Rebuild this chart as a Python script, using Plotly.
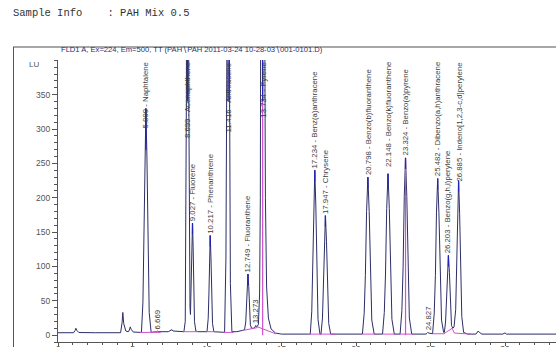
import plotly.graph_objects as go

# ---------------- data ----------------
time_min = [0.0, 0.9, 1.05, 1.15, 1.2, 1.26, 1.4, 2.5, 3.5, 4.15,
            4.2, 4.3, 4.35, 4.41, 4.55, 4.7,
            4.75, 4.81, 4.85, 4.91, 5.05, 5.5,
            5.60, 5.70, 5.76, 5.83, 5.899, 5.97, 6.04, 6.12, 6.25,
            6.5, 6.62, 6.669, 6.72, 7.4, 7.6, 7.65, 7.72, 8.3,
            8.45, 8.54, 8.58, 8.615, 8.657, 8.699, 8.74, 8.78, 8.82, 8.86, 8.89,
            8.93, 8.985, 9.027, 9.07, 9.11, 9.16, 9.25, 9.4,
            10.0, 10.08, 10.125, 10.17, 10.217, 10.265, 10.31, 10.37, 10.46,
            11.18, 11.27, 11.316, 11.366, 11.416, 11.466, 11.516, 11.57, 11.67,
            12.0, 12.4,
            12.52, 12.60, 12.65, 12.70, 12.749, 12.80, 12.85, 12.91, 12.99,
            13.15, 13.23, 13.273, 13.32, 13.39,
            13.45, 13.53, 13.58, 13.63, 13.68, 13.734, 13.79, 13.85, 13.92, 14.0, 14.12, 14.3, 14.6, 15.0,
            16.8,
            16.93, 17.03, 17.09, 17.16, 17.234, 17.305, 17.375, 17.45, 17.58,
            17.65, 17.75, 17.81, 17.88, 17.947, 18.02, 18.09, 18.17, 18.30,
            20.4,
            20.43, 20.55, 20.63, 20.71, 20.798, 20.885, 20.97, 21.06, 21.22,
            21.78, 21.90, 21.98, 22.06, 22.148, 22.235, 22.32, 22.41, 22.57,
            22.96, 23.08, 23.16, 23.24, 23.324, 23.41, 23.49, 23.58, 23.74,
            24.7, 24.78, 24.827, 24.88, 25.05,
            25.14, 25.25, 25.33, 25.40, 25.482, 25.565, 25.65, 25.74, 25.88,
            25.93, 26.01, 26.07, 26.135, 26.203, 26.27, 26.34, 26.41,
            26.5, 26.58, 26.69, 26.75, 26.815, 26.885, 26.955, 27.02, 27.10, 27.22, 27.5,
            28.05, 28.15, 28.2, 28.28, 28.45, 29.85, 29.95, 30.0, 30.1, 33.5]
signal_lu = [3.5, 3.5, 3.5, 7, 10, 7, 3.8, 3.5, 3.2, 3.2,
             3.5, 18, 33, 17, 6, 5,
             5.5, 9, 12, 8.5, 4.5, 4,
             4, 48, 126, 258, 330, 258, 126, 33, 4,
             4.5, 5, 6, 5, 5, 7.5, 8, 6, 5,
             5, 20, 126, 341, 703, 900, 703, 341, 120, 40, 30,
             62, 128, 163, 128, 65, 20, 6, 5,
             5, 24, 57, 114, 145, 114, 57, 17, 5,
             4, 111, 303, 625, 800, 625, 303, 75, 5,
             5, 7,
             8, 19, 38, 71, 89, 71, 38, 15, 10,
             10, 12, 14, 12, 13,
             16, 60, 200, 600, 1400, 2000, 1400, 600, 200, 70, 25, 9, 3, 1.5,
             1.5,
             1.5, 34, 91, 188, 240, 188, 91, 23, 1.5,
             1.5, 25, 66, 136, 174, 136, 66, 17, 1.5,
             1.5,
             1.5, 32, 87, 180, 230, 180, 87, 22, 1.5,
             1.5, 33, 89, 184, 235, 184, 89, 23, 1.5,
             1.5, 36, 98, 202, 258, 202, 98, 25, 1.5,
             1.5, 3, 4, 3, 2,
             2, 32, 87, 178, 228, 178, 87, 22, 4,
             4, 19, 46, 91, 116, 91, 46, 14,
             10, 12, 37, 89, 177, 225, 177, 89, 27, 4, 1.5,
             1.5, 5, 6, 4, 1.5, 1.5, 3, 3.2, 1.5, 1.5]

peak_rt = [5.899, 6.669, 8.699, 9.027, 10.217, 11.416, 12.749, 13.273, 13.734,
           17.234, 17.947, 20.798, 22.148, 23.324, 24.827, 25.482, 26.203, 26.885]
peak_name = ["Naphtalene", "", "Acenaphthene", "Fluorene", "Phenanthrene", "Anthracene",
             "Fluoranthene", "", "Pyrene", "Benz(a)anthracene", "Chrysene",
             "Benzo(b)fluoranthene", "Benzo(k)fluoranthene", "Benzo(a)pyrene", "",
             "Dibenzo(a,h)anthracene", "Benzo(g,h,i)perylene", "Indeno[1,2,3-c,d]perylene"]
peak_height = [330, 6, 900, 163, 145, 800, 89, 14, 2000,
               240, 174, 230, 235, 258, 4, 228, 116, 225]

# integration baselines (magenta), segments separated by None
base_t = [5.5, 6.9, None, 8.4, 9.4, None, 9.95, 10.6, None, 11.1, 11.8, None,
          12.45, 13.4, None, 13.4, 14.6, None, 16.9, 18.6, None, 20.45, 21.3, None,
          21.8, 22.7, None, 22.95, 23.8, None, 25.15, 25.9, 26.45, 26.6, 27.7]
base_lu = [4, 4, None, 5, 5, None, 5, 5, None, 4, 4, None,
           7, 11, None, 12, 2, None, 1.5, 1.5, None, 1.5, 1.5, None,
           1.5, 1.5, None, 1.5, 1.5, None, 2, 2, 10, 3, 1.5]

BS = "\u2216"  # backslash-looking glyph (plotly strips plain backslashes)
title_text = f"FLD1 A, Ex=224, Em=500, TT (PAH{BS}PAH 2011-03-24 10-28-03{BS}001-0101.D)"
sample_text = "Sample Info    : PAH Mix 0.5"

# ---------------- layout geometry ----------------
W, H = 556, 347
L, R, T, B = 58, 0, 60, 5
Y0, Y1 = -10, 400.5
X0, X1 = 0, (W - L) / 14.9


def px(xp):
    return (xp - L) / (W - L - R)


def py(yp):
    return (H - B - yp) / (H - T - B)


def lu_to_px(v):
    v = min(v, Y1)
    return (H - B) - (v - Y0) / (Y1 - Y0) * (H - T - B)


fig = go.Figure()
NAVY = "#2c2e66"
MAG = "#d24fd2"

fig.add_trace(go.Scatter(x=time_min, y=signal_lu, mode="lines",
                         line=dict(color=NAVY, width=1), hoverinfo="skip"))
fig.add_trace(go.Scatter(x=base_t, y=base_lu, mode="lines", connectgaps=False,
                         line=dict(color=MAG, width=1), hoverinfo="skip"))

# magenta drop lines at pyrene and benzo(a)pyrene
for name in ("Pyrene", "Benzo(a)pyrene"):
    i = peak_name.index(name)
    fig.add_trace(go.Scatter(x=[peak_rt[i], peak_rt[i]], y=[0, min(peak_height[i], Y1)],
                             mode="lines", line=dict(color=MAG, width=1.2), hoverinfo="skip"))

# blue apex marks
bx, by = [], []
for rt, h in zip(peak_rt, peak_height):
    if h < 50:
        continue
    top = min(h, Y1)
    bx += [rt, rt, None]
    by += [top, top - (60 if h > 300 else 16), None]
fig.add_trace(go.Scatter(x=bx, y=by, mode="lines", line=dict(color="#2323b8", width=1.3),
                         hoverinfo="skip"))

annotations = []
LABEL_FS = 7.8
CHAR_PX = 3.9
top_px = T + 1.5
for rt, name, h in zip(peak_rt, peak_name, peak_height):
    text = f"{rt:.3f}" + (f" - {name}" if name else "")
    length = len(text) * CHAR_PX
    apex_px = lu_to_px(h) - 1
    if apex_px - length < top_px:
        annotations.append(dict(x=rt, xref="x", y=py(top_px), yref="paper",
                                yanchor="top", xanchor="center", text=text, textangle=-90,
                                showarrow=False, borderpad=0,
                                font=dict(size=LABEL_FS, color="#3c3c3c", family="Liberation Sans")))
    else:
        annotations.append(dict(x=rt, xref="x", y=py(apex_px), yref="paper",
                                yanchor="bottom", xanchor="center", text=text, textangle=-90,
                                showarrow=False, borderpad=0,
                                font=dict(size=LABEL_FS, color="#3c3c3c", family="Liberation Sans")))

annotations.append(dict(x=px(60), y=py(49.5), xref="paper", yref="paper", xanchor="left",
                        yanchor="middle", text=title_text, showarrow=False, borderpad=0,
                        font=dict(size=7.6, color="#2a3070", family="Liberation Sans")))
annotations.append(dict(x=px(12), y=py(13.5), xref="paper", yref="paper", xanchor="left",
                        yanchor="middle", text=sample_text.replace(" ", "\u00a0"),
                        showarrow=False, borderpad=0,
                        font=dict(size=10.5, color="#333333", family="Liberation Mono")))
annotations.append(dict(x=px(34), y=py(65), xref="paper", yref="paper", xanchor="center",
                        yanchor="middle", text="LU", showarrow=False, borderpad=0,
                        font=dict(size=8, color="#555555", family="Liberation Sans")))

shapes = [
    dict(type="line", xref="paper", yref="paper", x0=px(13), x1=px(W + 10),
         y0=py(47), y1=py(47), line=dict(color="#8a8a8a", width=1.6)),
    dict(type="line", xref="paper", yref="paper", x0=px(13.5), x1=px(13.5),
         y0=py(47), y1=py(H + 10), line=dict(color="#555555", width=1)),
]

axis_font = dict(size=8.5, color="#555555", family="Liberation Sans")
fig.update_layout(
    width=W, height=H, margin=dict(l=L, r=R, t=T, b=B, autoexpand=False),
    paper_bgcolor="white", plot_bgcolor="white", showlegend=False,
    annotations=annotations, shapes=shapes,
    xaxis=dict(range=[X0, X1], tick0=0, dtick=5, ticks="outside", ticklen=3,
               ticklabelstandoff=-4,
               tickcolor="#555555", showline=True, linecolor="#555555", linewidth=1,
               showgrid=False, zeroline=False, tickfont=axis_font, automargin=False,
               minor=dict(dtick=1, ticks="outside", ticklen=2, tickcolor="#555555")),
    yaxis=dict(range=[Y0, Y1], ticks="outside", ticklen=5,
               tickvals=[0, 50, 100, 150, 200, 250, 300, 350],
               tickcolor="#555555", showline=True, linecolor="#555555", linewidth=1,
               showgrid=False, zeroline=False, tickfont=axis_font, automargin=False,
               minor=dict(dtick=10, tick0=0, ticks="outside", ticklen=3, tickcolor="#555555")),
)

fig.write_html("out.html", config={"displayModeBar": False},
               post_script="document.body.style.margin='0';document.body.style.overflow='hidden';")
